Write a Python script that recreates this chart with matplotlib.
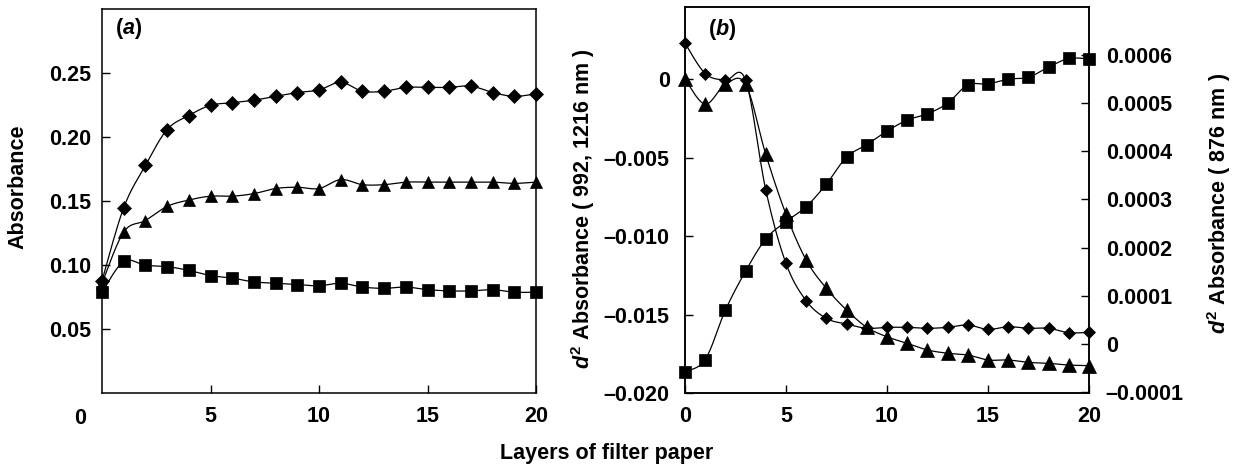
import numpy as np
import matplotlib
matplotlib.use("Agg")
import matplotlib.pyplot as plt
from matplotlib.ticker import FuncFormatter
import matplotlib.transforms as mtransforms

plt.rcParams['font.family'] = ['Liberation Sans', 'DejaVu Sans']
plt.rcParams['font.weight'] = 'bold'
plt.rcParams['mathtext.fontset'] = 'custom'
plt.rcParams['mathtext.rm'] = 'Liberation Sans:bold'
plt.rcParams['mathtext.it'] = 'Liberation Sans:italic:bold'
plt.rcParams['mathtext.bf'] = 'Liberation Sans:bold'

# ---------------- data ----------------
layers = list(range(21))

a_diamond = [0.088, 0.145, 0.178, 0.206, 0.217, 0.225, 0.227, 0.229, 0.232, 0.235, 0.237,
             0.243, 0.236, 0.236, 0.239, 0.239, 0.239, 0.240, 0.235, 0.232, 0.234]
a_triangle = [0.086, 0.126, 0.135, 0.146, 0.151, 0.154, 0.154, 0.156, 0.160, 0.161, 0.160,
              0.167, 0.163, 0.163, 0.165, 0.165, 0.165, 0.165, 0.165, 0.164, 0.165]
a_square = [0.079, 0.103, 0.100, 0.099, 0.096, 0.092, 0.090, 0.087, 0.086, 0.085, 0.084,
            0.086, 0.083, 0.082, 0.083, 0.081, 0.080, 0.080, 0.081, 0.079, 0.079]

b_diamond = [0.0023, 0.00036, -0.00006, -0.00006, -0.00706, -0.01173, -0.01411, -0.01523,
             -0.01559, -0.01586, -0.0158, -0.0158, -0.01586, -0.0158, -0.01565, -0.01593,
             -0.01576, -0.01586, -0.01586, -0.01614, -0.01612]
b_triangle = [0.0000, -0.00159, -0.00032, -0.00032, -0.00479, -0.0086, -0.01152, -0.01332,
              -0.0147, -0.0158, -0.0164, -0.01682, -0.01724, -0.01745, -0.01756, -0.01788,
              -0.01788, -0.01803, -0.01809, -0.0182, -0.01824]
b_square = [-0.000058, -0.000033, 0.000070, 0.000151, 0.000218, 0.000254, 0.000285, 0.000332,
            0.000388, 0.000414, 0.000442, 0.000465, 0.000478, 0.000500, 0.000538, 0.000540,
            0.000550, 0.000554, 0.000575, 0.000593, 0.000592]

a_yticks = [0.05, 0.10, 0.15, 0.20, 0.25]
a_xticks = [5, 10, 15, 20]
b_xticks = [0, 5, 10, 15, 20]
b_left_ticks = [0, -0.005, -0.010, -0.015, -0.020]
b_right_ticks = [-0.0001, 0, 0.0001, 0.0002, 0.0003, 0.0004, 0.0005, 0.0006]


def smooth_line(x, y, n=16):
    """Bezier smoothing through the points (like Excel smoothed lines)."""
    x = np.asarray(x, float)
    y = np.asarray(y, float)
    P = np.column_stack([x, y])
    P = np.vstack([P[0], P, P[-1]])
    out = []
    t = np.linspace(0, 1, n, endpoint=False)
    for i in range(1, len(P) - 2):
        p0, p1, p2, p3 = P[i - 1], P[i], P[i + 1], P[i + 2]
        c1 = p1 + (p2 - p0) / 6.0
        c2 = p2 - (p3 - p1) / 6.0
        tt = t[:, None]
        seg = ((1 - tt) ** 3) * p1 + 3 * ((1 - tt) ** 2) * tt * c1 + 3 * (1 - tt) * tt ** 2 * c2 + tt ** 3 * p2
        out.append(seg)
    out.append(P[-2][None, :])
    out = np.vstack(out)
    return out[:, 0], out[:, 1]


def draw_series(ax, x, y, marker, ms, lw=0.9):
    sx, sy = smooth_line(x, y)
    ax.plot(sx, sy, color='black', lw=lw, clip_on=False, zorder=2)
    ax.plot(x, y, linestyle='none', marker=marker, ms=ms, color='black',
            markeredgewidth=0.5, clip_on=False, zorder=3)


W, H = 1233, 468
fig = plt.figure(figsize=(W / 100, H / 100), dpi=100)

FS = 15.5

# ---------------- panel (a) ----------------
axa = fig.add_axes([102 / W, 1 - 393.3 / H, (536 - 102) / W, (393.3 - 9.3) / H])
draw_series(axa, layers, a_diamond, 'D', 6.8)
draw_series(axa, layers, a_triangle, '^', 8.8)
draw_series(axa, layers, a_square, 's', 8.2)
axa.set_xlim(0, 20)
axa.set_ylim(0, 0.30)
axa.set_xticks(a_xticks)
axa.set_yticks(a_yticks)
axa.yaxis.set_major_formatter(FuncFormatter(lambda v, p: f"{v:.2f}"))
axa.tick_params(axis='both', direction='in', length=6, width=1.0, labelsize=FS)
axa.tick_params(axis='x', pad=9)
axa.tick_params(axis='y', pad=8)
trans = mtransforms.blended_transform_factory(axa.transData, axa.transAxes)
axa.text(-1.0, -0.065, "0", transform=trans, ha='center', va='center',
         fontsize=FS, fontweight='bold')
axa.set_ylabel("Absorbance", fontsize=FS, fontweight='bold', va='center', ha='center')
axa.yaxis.set_label_coords(-0.194, 0.537)
axa.text(0.062, 0.949, r"($\mathit{a}$)", transform=axa.transAxes, ha='center',
         va='center', fontsize=FS, fontweight='bold')

# ---------------- panel (b) ----------------
axb = fig.add_axes([685 / W, 1 - 393.3 / H, (1089 - 685) / W, (393.3 - 7) / H])
axr = axb.twinx()
draw_series(axb, layers, b_diamond, 'D', 6.6)
draw_series(axb, layers, b_triangle, '^', 9.5)
draw_series(axr, layers, b_square, 's', 9.2)
axb.set_xlim(0, 20)
axb.set_ylim(-0.020, 0.0046)
axr.set_ylim(-0.000103, 0.0007)
axb.set_xticks(b_xticks)
axb.set_yticks(b_left_ticks)
axr.set_yticks(b_right_ticks)


def fmt_left(v, p):
    if abs(v) < 1e-12:
        return "0"
    return f"{v:.3f}".replace('-', '\u2013')


def fmt_right(v, p):
    if abs(v) < 1e-12:
        return "0"
    return f"{v:.4f}".replace('-', '\u2013')


axb.yaxis.set_major_formatter(FuncFormatter(fmt_left))
axr.yaxis.set_major_formatter(FuncFormatter(fmt_right))
axb.tick_params(axis='both', direction='in', length=6, width=1.0, labelsize=FS)
axb.tick_params(axis='x', pad=9)
axb.tick_params(axis='y', pad=11)
axr.tick_params(axis='y', direction='in', length=6, width=1.0, labelsize=FS, pad=12)

axb.set_ylabel(r"$\mathit{d}^{2}$ Absorbance ( 992, 1216 nm )", fontsize=FS,
               fontweight='bold', va='center', ha='center')
axb.yaxis.set_label_coords(-0.252, 0.477)
axr.set_ylabel(r"$\mathit{d}^{2}$ Absorbance ( 876 nm )", fontsize=FS, fontweight='bold',
               rotation=90, va='center', ha='center')
axr.yaxis.set_label_coords(1.322, 0.491)
axb.text(0.092, 0.943, r"($\mathit{b}$)", transform=axb.transAxes, ha='center',
         va='center', fontsize=FS, fontweight='bold')

for ax in (axa, axb, axr):
    for s in ax.spines.values():
        s.set_linewidth(1.1)
        s.set_color('black')

fig.text(606.7 / W, 1 - 453 / H, "Layers of filter paper", ha='center', va='center',
         fontsize=FS, fontweight='bold')

fig.savefig("out.png", dpi=100)
